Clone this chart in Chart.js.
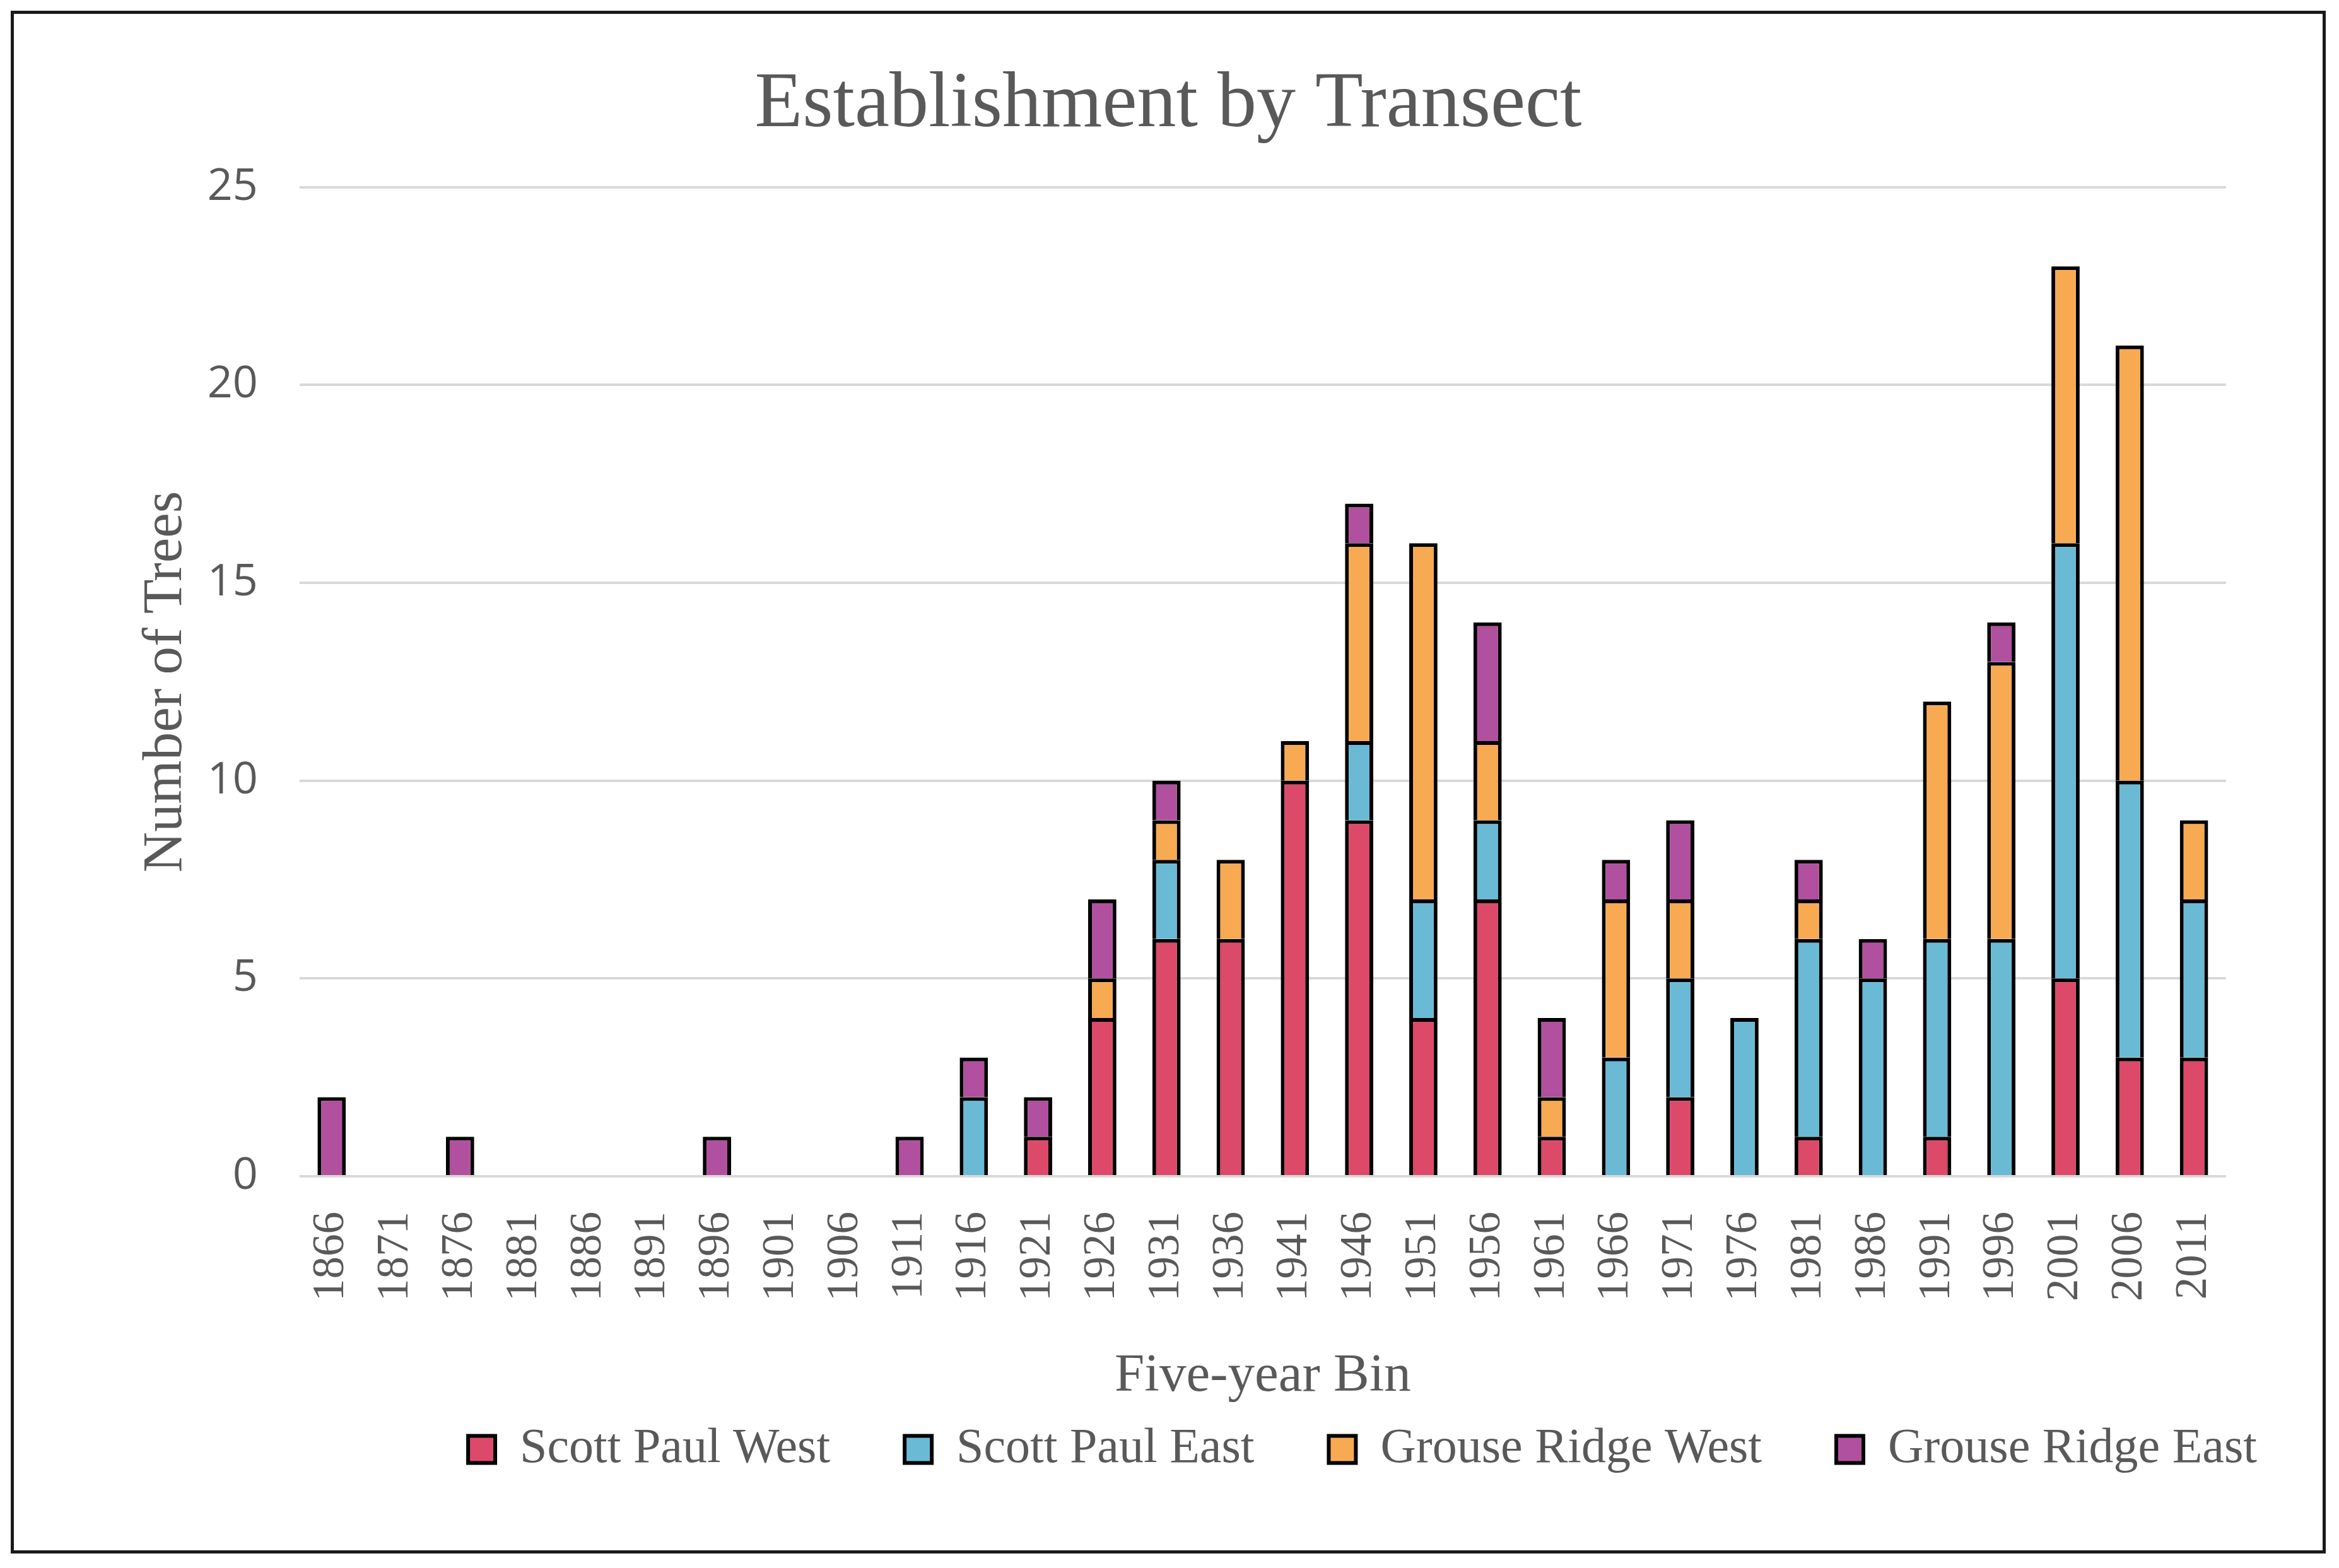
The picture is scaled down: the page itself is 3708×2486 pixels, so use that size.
<!DOCTYPE html>
<html>
<head>
<meta charset="utf-8">
<title>Establishment by Transect</title>
<script src="https://cdn.jsdelivr.net/npm/chart.js@4.4.1/dist/chart.umd.min.js"></script>
<style>
  html, body { margin: 0; padding: 0; background: #fff; }
  #contenedor { position: relative; width: 3708px; height: 2486px; }
  #marco { position: absolute; left: 17px; top: 17px; width: 3670px; height: 2446px; box-sizing: border-box; border: 5px solid #1a1a1a; pointer-events: none; }
</style>
</head>
<body>
<div id="contenedor">
  <canvas id="grafico"></canvas>
  <div id="marco"></div>
</div>
<script>
// Bins de cinco años (eje X)
const bins = ['1866', '1871', '1876', '1881', '1886', '1891', '1896', '1901', '1906', '1911',
              '1916', '1921', '1926', '1931', '1936', '1941', '1946', '1951', '1956', '1961',
              '1966', '1971', '1976', '1981', '1986', '1991', '1996', '2001', '2006', '2011'];

// Número de árboles por transecto
const scottPaulWest   = [0, 0, 0, 0, 0, 0, 0, 0, 0, 0, 0, 1, 4, 6, 6, 10, 9, 4, 7, 1, 0, 2, 0, 1, 0, 1, 0, 5, 3, 3];
const scottPaulEast   = [0, 0, 0, 0, 0, 0, 0, 0, 0, 0, 2, 0, 0, 2, 0, 0, 2, 3, 2, 0, 3, 3, 4, 5, 5, 5, 6, 11, 7, 4];
const grouseRidgeWest = [0, 0, 0, 0, 0, 0, 0, 0, 0, 0, 0, 0, 1, 1, 2, 1, 5, 9, 2, 1, 4, 2, 0, 1, 0, 6, 7, 7, 11, 2];
const grouseRidgeEast = [2, 0, 1, 0, 0, 0, 1, 0, 0, 1, 1, 1, 2, 1, 0, 0, 1, 0, 3, 2, 1, 2, 0, 1, 1, 0, 1, 0, 0, 0];

// Eje Y
const yMin = 0;
const yMax = 25;
const yPaso = 5;

const gris = '#595959';

// El título y la leyenda van algo corridos a la derecha respecto al gráfico
const moverBloques = {
    id: 'moverBloques',
    afterLayout(chart) {
        const tit = chart.titleBlock;
        const dxT = 1852 - (tit.left + tit.right) / 2;
        tit.left += dxT;
        tit.right += dxT;

        const ley = chart.legend;
        const dx = 2160 - (ley.left + ley.right) / 2;
        ley.left += dx;
        ley.right += dx;
        ley.top -= 96;
        ley.bottom = ley.top + 260;
    }
};

function serie(nombre, datos, color) {
    return {
        label: nombre,
        data: datos,
        backgroundColor: color,
        borderColor: '#000000',
        borderWidth: 6,
        borderSkipped: 'start',
        categoryPercentage: 1,
        barPercentage: 0.44
    };
}

const ctx = document.getElementById('grafico').getContext('2d');

new Chart(ctx, {
    type: 'bar',
    data: {
        labels: bins,
        datasets: [
            serie('Scott Paul West', scottPaulWest, '#DD4968'),
            serie('Scott Paul East', scottPaulEast, '#6ABAD6'),
            serie('Grouse Ridge West', grouseRidgeWest, '#F7AA52'),
            serie('Grouse Ridge East', grouseRidgeEast, '#B0509E')
        ]
    },
    options: {
        responsive: true,
        maintainAspectRatio: false,
        devicePixelRatio: 1,
        animation: false,
        layout: {
            padding: { left: 0, right: 179, top: 30, bottom: 149 }
        },
        plugins: {
            title: {
                display: true,
                text: 'Establishment by Transect',
                color: gris,
                font: { family: 'Liberation Serif', size: 124, weight: 'normal' },
                padding: { top: 63, bottom: 55 }
            },
            legend: {
                position: 'bottom',
                maxHeight: 100,
                labels: {
                    color: gris,
                    boxWidth: 43,
                    boxHeight: 43,
                    padding: 118,
                    font: { family: 'Liberation Serif', size: 78 }
                }
            },
            tooltip: { enabled: false }
        },
        scales: {
            x: {
                stacked: true,
                grid: { display: false },
                border: { display: false },
                ticks: {
                    color: gris,
                    autoSkip: false,
                    minRotation: 90,
                    maxRotation: 90,
                    padding: 48,
                    font: { family: 'Liberation Serif', size: 71 }
                },
                title: {
                    display: true,
                    text: 'Five-year Bin',
                    color: gris,
                    font: { family: 'Liberation Serif', size: 85 },
                    padding: { top: 21, bottom: 3 }
                }
            },
            y: {
                stacked: true,
                min: yMin,
                max: yMax,
                grid: { color: '#D9D9D9', lineWidth: 4, drawTicks: false },
                border: { display: false },
                ticks: {
                    stepSize: yPaso,
                    color: gris,
                    padding: 66,
                    font: { family: 'Open Sans', size: 70 }
                },
                title: {
                    display: true,
                    text: 'Number of Trees',
                    color: gris,
                    font: { family: 'Liberation Serif', size: 89 },
                    padding: { top: 210, bottom: -54 }
                }
            }
        }
    },
    plugins: [moverBloques]
});
</script>
</body>
</html>
